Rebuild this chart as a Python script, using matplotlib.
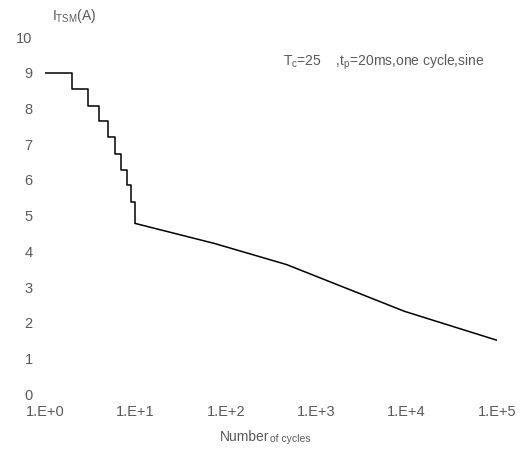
import matplotlib
matplotlib.use("Agg")
import matplotlib.pyplot as plt

plt.rcParams['font.family'] = ['Liberation Sans Narrow', 'Liberation Sans', 'DejaVu Sans']

# surge current vs number of cycles
cycles_step = [1, 2, 3, 4, 5, 6, 7, 8, 9, 10]
itsm_step = [9.0, 8.54, 8.08, 7.64, 7.19, 6.74, 6.27, 5.85, 5.38, 4.78]
cycles_tail = [10, 75, 470, 9500, 1e5]
itsm_tail = [4.78, 4.22, 3.63, 2.32, 1.51]

xticks = [1, 10, 100, 1000, 10000, 100000]
xticklabels = ["1.E+0", "1.E+1", "1.E+2", "1.E+3", "1.E+4", "1.E+5"]
yticks = list(range(0, 11))

grey = "#595959"

fig = plt.figure(figsize=(5.24, 4.53), dpi=100)
ax = fig.add_axes([0.086, 0.130, 0.862, 0.788])

ax.step(cycles_step, itsm_step, where="post", color="black", lw=1.1)
ax.plot(cycles_tail, itsm_tail, color="black", lw=1.1)

ax.set_xscale("log")
ax.set_xlim(1, 1e5)
ax.set_ylim(0, 10)
ax.set_xticks(xticks)
ax.set_xticklabels(xticklabels)
ax.minorticks_off()
ax.set_yticks(yticks)
ax.tick_params(axis="both", length=0, labelsize=10.5, colors=grey)
ax.tick_params(axis="x", pad=8)
ax.tick_params(axis="y", pad=9)
for s in ax.spines.values():
    s.set_visible(False)

fig.text(0.099, 0.965, r"$\mathregular{I_{TSM}(A)}$", fontsize=10, color=grey, va="center")
fig.text(0.54, 0.862, r"$\mathregular{T_c}$=25    ,$\mathregular{t_p}$=20ms,one cycle,sine",
         fontsize=10, color=grey, va="center")
fig.text(0.515, 0.035, "Number", fontsize=10, color=grey, ha="right", va="center")
fig.text(0.515, 0.032, "of cycles", fontsize=7.5, color=grey, ha="left", va="center")

fig.savefig("out.png", dpi=100)
